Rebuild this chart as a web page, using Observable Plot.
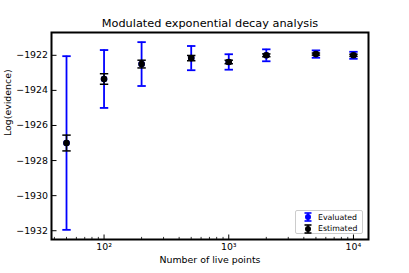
<!DOCTYPE html>
<html><head><meta charset="utf-8">
<script src="https://cdn.jsdelivr.net/npm/d3@7"></script>
<script src="https://cdn.jsdelivr.net/npm/@observablehq/plot@0.6"></script>
<style>
html,body{margin:0;padding:0;background:#fff;}
#wrap{position:relative;width:409px;height:273px;font-family:"DejaVu Sans",sans-serif;}
#legend{position:absolute;left:295px;top:210px;width:68px;height:24px;box-sizing:border-box;border:1px solid #ccc;border-radius:2px;background:rgba(255,255,255,0.8);font-size:7.8px;color:#000;}
#legend .row{position:absolute;left:0;height:12px;display:flex;align-items:center;}
#legend svg{margin-left:8px;margin-right:6px;}
</style></head><body><div id="wrap"></div>
<script>
const title = "Modulated exponential decay analysis";
const xLabel = "Number of live points";
const yLabel = "Log(evidence)";
const livePoints = [50, 100, 200, 500, 1000, 2000, 5000, 10000];
const evaluatedMean = [-1927.0, -1923.35, -1922.5, -1922.16, -1922.38, -1922.0, -1921.93, -1922.0];
const evaluatedErr = [4.95, 1.65, 1.25, 0.69, 0.44, 0.34, 0.21, 0.2];
const estimatedMean = [-1927.0, -1923.35, -1922.5, -1922.16, -1922.38, -1922.0, -1921.93, -1922.0];
const estimatedErr = [0.45, 0.3, 0.22, 0.15, 0.1, 0.08, 0.06, 0.06];
const yTicks = [-1932, -1930, -1928, -1926, -1924, -1922];
const xMajor = [100, 1000, 10000];
const xMajorLabels = ["10²", "10³", "10⁴"];
const xMinor = [40, 50, 60, 70, 80, 90, 200, 300, 400, 500, 600, 700, 800, 900, 2000, 3000, 4000, 5000, 6000, 7000, 8000, 9000];
const seriesNames = ["Evaluated", "Estimated"];
const seriesColors = ["#0000ff", "#000000"];

const evaluated = livePoints.map((n, i) => ({n, m: evaluatedMean[i], lo: evaluatedMean[i] - evaluatedErr[i], hi: evaluatedMean[i] + evaluatedErr[i]}));
const estimated = livePoints.map((n, i) => ({n, m: estimatedMean[i], lo: estimatedMean[i] - estimatedErr[i], hi: estimatedMean[i] + estimatedErr[i]}));

const len = s => Math.sqrt(s / Math.PI);
const hLine = {draw(c, s) { const l = len(s); c.moveTo(-l, 0); c.lineTo(l, 0); }};
const vUp = {draw(c, s) { const l = len(s); c.moveTo(0, 0); c.lineTo(0, -l); }};
const hRight = {draw(c, s) { const l = len(s); c.moveTo(0, 0); c.lineTo(l, 0); }};

function errMarks(data, color, sw) {
  return [
    Plot.ruleX(data, {x: "n", y1: "lo", y2: "hi", stroke: color, strokeWidth: sw}),
    Plot.dot(data, {x: "n", y: "lo", symbol: hLine, r: 4.2, stroke: color, strokeWidth: sw, fill: "none"}),
    Plot.dot(data, {x: "n", y: "hi", symbol: hLine, r: 4.2, stroke: color, strokeWidth: sw, fill: "none"}),
    Plot.dot(data, {x: "n", y: "m", r: 3.3, fill: color, stroke: "none"})
  ];
}

const chart = Plot.plot({
  width: 409, height: 273,
  marginLeft: 51, marginRight: 41, marginTop: 32, marginBottom: 34,
  style: {fontFamily: "DejaVu Sans", fontSize: "9.4px", background: "#fff", color: "#000"},
  x: {type: "log", domain: [37.9, 13200]},
  y: {domain: [-1932.5, -1920.7]},
  marks: [
    Plot.axisX(xMajor, {tickSize: 0, tickPadding: 4, tickFormat: (d) => xMajorLabels[xMajor.indexOf(d)], label: null, fontSize: 9.4}),
    Plot.axisY(yTicks, {tickSize: 0, tickPadding: 3.5, tickFormat: d3.format("d"), label: null, fontSize: 9.4}),
    Plot.dot(xMajor, {x: d => d, frameAnchor: "bottom", symbol: vUp, r: 5, stroke: "#000", strokeWidth: 1, fill: "none"}),
    Plot.dot(xMinor, {x: d => d, frameAnchor: "bottom", symbol: vUp, r: 2.6, stroke: "#000", strokeWidth: 0.8, fill: "none"}),
    Plot.dot(yTicks, {y: d => d, frameAnchor: "left", symbol: hRight, r: 5, stroke: "#000", strokeWidth: 1, fill: "none"}),
    ...errMarks(evaluated, seriesColors[0], 1.8),
    ...errMarks(estimated, seriesColors[1], 1.5),
    Plot.frame({stroke: "#000", strokeWidth: 2}),
    Plot.text([title], {frameAnchor: "top", dy: -9, text: d => d, fontSize: 11.3, lineAnchor: "middle"}),
    Plot.text([xLabel], {frameAnchor: "bottom", dy: 20, text: d => d, fontSize: 9.4, lineAnchor: "middle"}),
    Plot.text([yLabel], {frameAnchor: "left", dx: -44, rotate: -90, text: d => d, fontSize: 9.4, lineAnchor: "middle"})
  ]
});
const wrap = document.getElementById("wrap");
wrap.appendChild(chart);

const legend = document.createElement("div");
legend.id = "legend";
seriesNames.forEach((name, i) => {
  const row = document.createElement("div");
  row.className = "row";
  row.style.top = (i === 0 ? 0 : 11.5) + "px";
  const c = seriesColors[i];
  row.innerHTML = `<svg width="8" height="10" viewBox="0 0 8 10"><line x1="4" y1="1" x2="4" y2="9" stroke="${c}" stroke-width="1.6"/><line x1="0.5" y1="1" x2="7.5" y2="1" stroke="${c}" stroke-width="1.6"/><line x1="0.5" y1="9" x2="7.5" y2="9" stroke="${c}" stroke-width="1.6"/><circle cx="4" cy="5" r="3" fill="${c}"/></svg><span>${name}</span>`;
  legend.appendChild(row);
});
wrap.appendChild(legend);
</script></body></html>
